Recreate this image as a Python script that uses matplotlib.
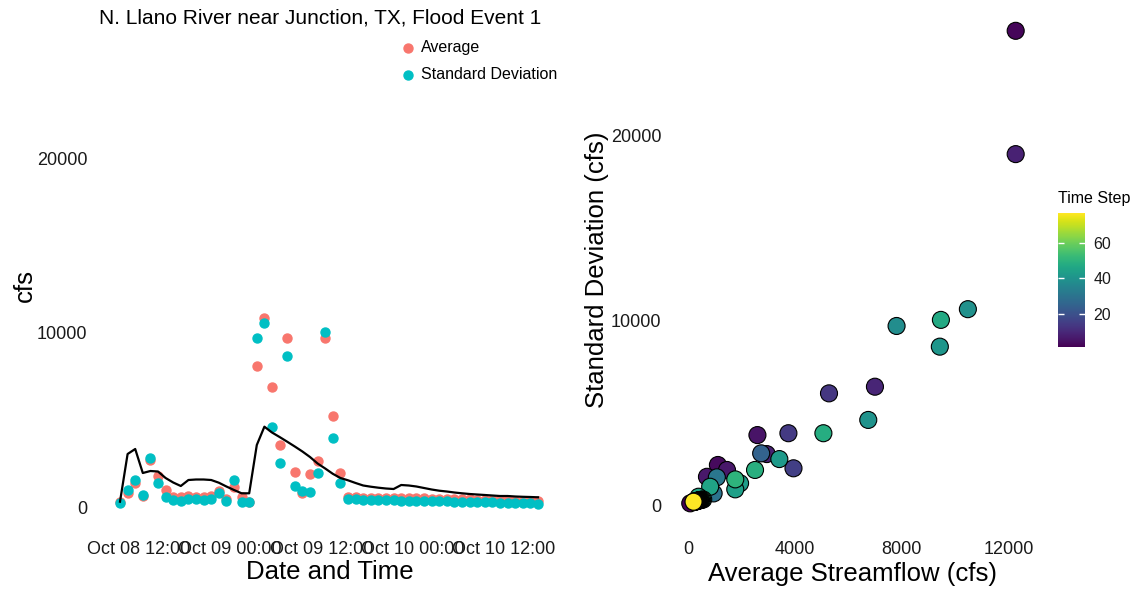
import numpy as np
import pandas as pd
import matplotlib
matplotlib.use("Agg")
import matplotlib.pyplot as plt
import matplotlib.dates as mdates
from matplotlib.cm import ScalarMappable
from matplotlib.colors import Normalize

plt.rcParams['font.family'] = ['Liberation Sans', 'DejaVu Sans']

# -------------------------
# data: left panel (hourly)
# -------------------------
times = pd.date_range("2018-10-08 09:30", periods=56, freq="h")

avg_flow = [300, 820, 1360, 650, 2700, 1790, 970, 590, 590, 630, 590, 590, 630, 930,
            440, 1130, 590, 300, 8100, 10810, 6890, 3550, 9700, 2020, 790, 1890, 2650,
            9700, 5220, 1930, 590,
            560, 540, 530, 520, 510, 500, 495, 490, 500, 490, 480, 470, 460, 450, 440,
            430, 420, 410, 400, 390, 380, 370, 360, 350, 340]

std_flow = [210, 970, 1550, 690, 2830, 1360, 590, 400, 340, 460, 460, 400, 460, 790,
            360, 1550, 270, 300, 9700, 10560, 4570, 2540, 8650, 1220, 930, 880, 1930,
            10050, 3970, 1390, 460,
            440, 420, 410, 400, 390, 380, 370, 360, 370, 350, 340, 330, 320, 310, 300,
            290, 280, 270, 260, 250, 240, 230, 220, 210, 200]

obs_flow = [304, 3037, 3324, 1948, 2063, 2034, 1662, 1404, 1203, 1547, 1576, 1576,
            1547, 1393, 1175, 974, 785, 785, 3553, 4602, 4269, 4011, 3742, 3467, 3181,
            2865, 2493, 2206, 1903, 1662, 1530, 1375, 1232, 1163, 1106, 1060, 1031,
            1261, 1232, 1175, 1089, 1003, 934, 888, 831, 785, 745, 716, 688, 659, 630,
            630, 602, 585, 573, 556]

date_ticks = pd.to_datetime(["2018-10-08 12:00", "2018-10-09 00:00", "2018-10-09 12:00",
                             "2018-10-10 00:00", "2018-10-10 12:00"])

# -------------------------
# data: right panel
# -------------------------
time_step = [1, 2, 3, 5, 6, 6, 8, 8, 9, 13, 14, 15, 25, 31, 30, 38, 39, 40, 41, 42,
             43, 44, 45, 47, 48, 49, 50, 46,
             51, 52, 53, 54, 55, 56, 57, 58, 59, 60, 61, 62, 63, 64, 65, 66, 67, 68,
             69, 70, 71, 72, 73, 74, 75, 76, 77]
avg_r = [75, 12260, 1110, 2590, 1450, 700, 12260, 2940, 6990, 5270, 3750, 3940, 2730,
         1070, 950, 7800, 10470, 6740, 9420, 3410, 1940, 1760, 820, 9460, 5060, 2500,
         1760, 385,
         560, 520, 480, 460, 440, 420, 400, 390, 380, 370, 360, 350, 340, 330, 320,
         310, 300, 290, 280, 270, 260, 250, 240, 230, 220, 210, 198]
std_r = [92, 25690, 2170, 3790, 1900, 1530, 19010, 2760, 6410, 6050, 3890, 1990, 2800,
         1500, 630, 9700, 10610, 4610, 8580, 2490, 1180, 850, 990, 10030, 3890, 1900,
         1390, 450,
         300, 290, 280, 270, 265, 260, 255, 250, 245, 240, 235, 230, 225, 220, 215,
         210, 205, 200, 198, 195, 192, 190, 188, 186, 184, 182, 179]

W, H = 1147, 590
fig = plt.figure(figsize=(W / 100, H / 100), dpi=100)

text_col = '#1a1a1a'

# -------------------------
# 1. TIME SERIES
# -------------------------
ax1 = fig.add_axes([100 / W, (H - 527) / H, 460 / W, 437 / H])
p_avg = ax1.scatter(times, avg_flow, s=42, color='#F8766D', label='Average', zorder=2)
p_std = ax1.scatter(times, std_flow, s=42, color='#00BFC4', label='Standard Deviation', zorder=3)
ax1.plot(times, obs_flow, color='black', lw=1.6, zorder=4)

t0 = times[0]
ax1.set_xlim(t0 - pd.Timedelta(hours=20 / 7.6), t0 + pd.Timedelta(hours=440 / 7.6))
ax1.set_ylim(-1146, 23897)
ax1.set_yticks([0, 10000, 20000])
ax1.set_xticks(date_ticks)
ax1.xaxis.set_major_formatter(mdates.DateFormatter('%b %d %H:%M'))
ax1.tick_params(length=0, labelsize=13, labelcolor=text_col)
ax1.tick_params(axis='x', pad=10)
ax1.tick_params(axis='y', pad=9)
for s in ax1.spines.values():
    s.set_visible(False)
ax1.set_xlabel('Date and Time', fontsize=18.5)
ax1.set_ylabel('cfs', fontsize=18.5)
ax1.xaxis.set_label_coords(0.5, (527 - 572) / 437)
ax1.xaxis.label.set_va('center')
ax1.yaxis.set_label_coords((25 - 100) / 460, (527 - 285) / 437)
ax1.yaxis.label.set_va('center')

fig.text(320 / W, 1 - 18 / H, 'N. Llano River near Junction, TX, Flood Event 1',
         ha='center', va='center', fontsize=15)
fig.legend(handles=[p_avg, p_std], loc='upper left', bbox_to_anchor=(402 / W, 1 - 40 / H),
           frameon=False, fontsize=11.5, handlelength=0.8, handletextpad=0.4,
           labelspacing=0.75, borderpad=0, borderaxespad=0)

# -------------------------
# 2. AVG VS STD SCATTER
# -------------------------
ax2 = fig.add_axes([674 / W, (H - 527) / H, 358 / W, 520 / H])
norm = Normalize(vmin=min(time_step), vmax=max(time_step))
ax2.scatter(avg_r, std_r, c=time_step, cmap='viridis', norm=norm, s=150,
            edgecolors='black', linewidths=0.8, zorder=3)
ax2.set_xlim(-534, 12871)
ax2.set_ylim(-1190, 26980)
ax2.set_xticks([0, 4000, 8000, 12000])
ax2.set_yticks([0, 10000, 20000])
ax2.tick_params(length=0, labelsize=13, labelcolor=text_col)
ax2.tick_params(axis='x', pad=10)
ax2.tick_params(axis='y', pad=9)
for s in ax2.spines.values():
    s.set_visible(False)
ax2.set_xlabel('Average Streamflow (cfs)', fontsize=18.5)
ax2.set_ylabel('Standard Deviation (cfs)', fontsize=18.5)
ax2.xaxis.set_label_coords(0.5, (527 - 574) / 520)
ax2.xaxis.label.set_va('center')
ax2.yaxis.set_label_coords((597 - 674) / 358, (527 - 270) / 520)
ax2.yaxis.label.set_va('center')

cax = fig.add_axes([1058 / W, (H - 347) / H, 27 / W, 134 / H])
cb = fig.colorbar(ScalarMappable(norm=norm, cmap='viridis'), cax=cax)
cb.outline.set_visible(False)
cb.set_ticks([20, 40, 60])
cax.tick_params(direction='in', left=True, right=True, color='white', length=4,
                width=1, labelsize=11.5, labelcolor=text_col, pad=6)
fig.text(1058 / W, 1 - 199 / H, 'Time Step', ha='left', va='center', fontsize=11.5)

fig.savefig('out.png', dpi=100, facecolor='white')
